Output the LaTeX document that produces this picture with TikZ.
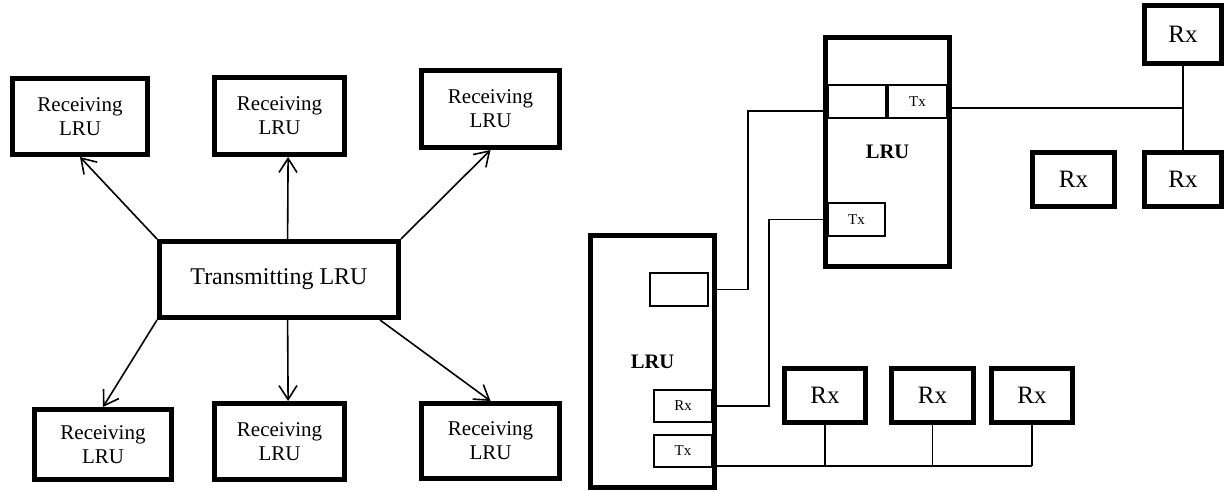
\documentclass[tikz,border=0pt]{standalone}
\usepackage{fontspec}
\setmainfont{Liberation Serif}
\usetikzlibrary{arrows.meta}
\newcommand{\BoxLabel}{\fontsize{10.5}{12}\selectfont}
\newcommand{\SourceLabel}{\fontsize{12}{13}\selectfont}
\newcommand{\RxLabel}{\fontsize{12.5}{13}\selectfont}
\newcommand{\UnitLabel}{\fontsize{10.3}{11}\selectfont\bfseries}
\newcommand{\PortLabel}{\fontsize{7.5}{8}\selectfont}
\tikzset{
  unit box/.style={draw=black,line width=2.5pt,inner sep=0pt,align=center},
  port box/.style={draw=black,line width=0.9pt,inner sep=0pt,font=\PortLabel},
  feed/.style={draw=black,line width=0.8pt,-{Straight Barb[length=7pt,width=9pt]}},
  wire/.style={draw=black,line width=0.8pt}
}

\begin{document}
\begin{tikzpicture}[x=0.5pt,y=-0.5pt]
  % coordinates are pixels of the 1226 x 492 sheet, y downwards
  \useasboundingbox (0,0) rectangle (1226,492);

  \newcommand{\boxat}[8]{% style, border px, name, x1, y1, x2, y2, text
    \node[#1,minimum width={(#6-#4-#2)*0.5pt},minimum height={(#7-#5-#2)*0.5pt}]
      (#3) at ({(#4+#6)/2},{(#5+#7)/2}) {#8};%
  }

  % one transmitter, six receivers
  \boxat{unit box,font=\BoxLabel}{5}{rcA}{10}{76}{150}{157}{Receiving\\LRU}
  \boxat{unit box,font=\BoxLabel}{5}{rcB}{212}{75}{347}{157}{Receiving\\LRU}
  \boxat{unit box,font=\BoxLabel}{5}{rcC}{419}{68}{562}{150}{Receiving\\LRU}
  \boxat{unit box,font=\SourceLabel}{5}{txu}{157}{239}{401}{320}{Transmitting LRU}
  \boxat{unit box,font=\BoxLabel}{5}{rcD}{32}{407}{174}{482}{Receiving\\LRU}
  \boxat{unit box,font=\BoxLabel}{5}{rcE}{212}{401}{347}{482}{Receiving\\LRU}
  \boxat{unit box,font=\BoxLabel}{5}{rcF}{419}{401}{562}{481}{Receiving\\LRU}

  \draw[feed] (txu.north west) -- (rcA.south);
  \draw[feed] ([xshift=4.3pt]txu.north) -- ([xshift=4.3pt]rcB.south);
  \draw[feed] (txu.north east) -- (rcC.south);
  \draw[feed] (txu.south west) -- (rcD.north);
  \draw[feed] ([xshift=4.3pt]txu.south) -- ([xshift=4.3pt]rcE.north);
  \draw[feed] ([xshift=-10.5pt]txu.south east) -- (rcF.north);

  % two LRUs with their ports
  \boxat{unit box,font=\UnitLabel}{5}{upLRU}{823}{35}{952}{269}{LRU}
  \boxat{port box}{2}{upBlank}{827}{84}{887}{119}{}
  \boxat{port box}{2}{upTxA}{887}{84}{948}{119}{Tx}
  \boxat{port box}{2}{upTxB}{827}{202}{886}{237}{Tx}

  \boxat{unit box,font=\UnitLabel}{5}{loLRU}{588}{233}{717}{490}{LRU}
  \boxat{port box}{2}{loBlank}{649}{272}{709}{307}{}
  \boxat{port box}{2}{loRx}{653}{389}{713}{423}{Rx}
  \boxat{port box}{2}{loTx}{653}{434}{713}{468}{Tx}

  \boxat{unit box,font=\RxLabel}{5}{rxA}{782}{366}{868}{425}{Rx}
  \boxat{unit box,font=\RxLabel}{5}{rxB}{889}{366}{976}{425}{Rx}
  \boxat{unit box,font=\RxLabel}{5}{rxC}{989}{366}{1075}{425}{Rx}
  \boxat{unit box,font=\RxLabel}{5}{rxD}{1142}{3}{1224}{66}{Rx}
  \boxat{unit box,font=\RxLabel}{5}{rxE}{1030}{150}{1117}{209}{Rx}
  \boxat{unit box,font=\RxLabel}{5}{rxF}{1142}{150}{1224}{209}{Rx}

  \coordinate (bendA) at (748,111);
  \coordinate (bendD) at (769,406);
  \coordinate (tap) at (1183,108);
  \coordinate (busEnd) at (1032,466);

  \draw[wire] (bendA -| upLRU.west) -- (bendA) |- (loBlank -| loLRU.east);
  \draw[wire] (upTxB -| upLRU.west) -| (bendD) -- (loRx -| loLRU.east);
  \draw[wire] (tap -| upLRU.east) -- (tap);
  \draw[wire] (rxD.south) -- (rxF.north);
  \draw[wire] (busEnd -| loLRU.east) -- (busEnd);
  \foreach \r in {rxA,rxB,rxC}
    \draw[wire] (\r.south) -- (\r.south |- busEnd);
\end{tikzpicture}
\end{document}
